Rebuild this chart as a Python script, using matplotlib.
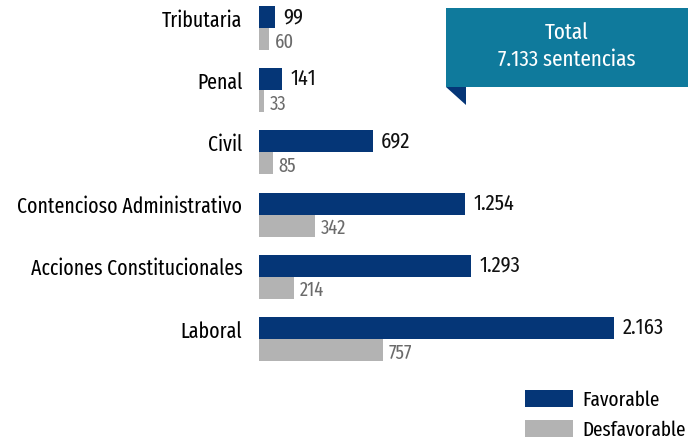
import matplotlib.pyplot as plt
import numpy as np
from matplotlib.patches import Polygon

# data
categorias = ["Tributaria", "Penal", "Civil", "Contencioso Administrativo",
              "Acciones Constitucionales", "Laboral"]
favorable = [99, 141, 692, 1254, 1293, 2163]
desfavorable = [60, 33, 85, 342, 214, 757]
etiq_fav = ["99", "141", "692", "1.254", "1.293", "2.163"]
etiq_des = ["60", "33", "85", "342", "214", "757"]
total_txt = "Total\n7.133 sentencias"

AZUL = "#053677"
GRIS = "#b3b3b3"
TEAL = "#0f7a9c"

plt.rcParams['font.family'] = ['Fira Sans Extra Condensed', 'DejaVu Sans']

W, H = 695, 444
fig = plt.figure(figsize=(W / 100, H / 100), dpi=100)
ax = fig.add_axes([259 / W, 0, 1 - 259 / W, 1])

y = np.arange(len(categorias))
h = 0.355
ax.barh(y - h / 2, favorable, height=h, color=AZUL, label="Favorable")
ax.barh(y + h / 2, desfavorable, height=h, color=GRIS, label="Desfavorable")

for yi, v, t in zip(y, favorable, etiq_fav):
    ax.annotate(t, (v, yi - h / 2), xytext=(6, 0), textcoords="offset points",
                va="center", ha="left", fontsize=16, color="#111111")
for yi, v, t in zip(y, desfavorable, etiq_des):
    ax.annotate(t, (v, yi + h / 2), xytext=(4, -2), textcoords="offset points",
                va="center", ha="left", fontsize=14.5, color="#6b6b6b")

ax.set_xlim(0, 2163 * 436 / 355)
ax.set_ylim(-0.45 + H / 62.2, -0.45)
ax.set_yticks(y - h / 2 + 0.02)
ax.set_yticklabels(categorias, fontsize=15.5)
ax.tick_params(axis="y", length=0, pad=12)
ax.set_xticks([])
for s in ax.spines.values():
    s.set_visible(False)

# caja total
box = Polygon([(446 / W, 1 - 8 / H), (688 / W, 1 - 8 / H), (688 / W, 1 - 87 / H),
               (446 / W, 1 - 87 / H)], closed=True, transform=fig.transFigure,
              facecolor=TEAL, edgecolor="none")
tri = Polygon([(446 / W, 1 - 87 / H), (466 / W, 1 - 87 / H), (466 / W, 1 - 105 / H)],
              closed=True, transform=fig.transFigure, facecolor=AZUL, edgecolor="none")
fig.patches.extend([box, tri])
fig.text(567 / W, 1 - 46 / H, total_txt, color="white", fontsize=16.5,
         ha="center", va="center", linespacing=1.3)

ax.legend(loc="lower left", bbox_to_anchor=(525 / W, 4 / H), bbox_transform=fig.transFigure,
          frameon=False, fontsize=15, handlelength=2.3, handleheight=0.87,
          labelspacing=0.5, handletextpad=0.45, borderpad=0, borderaxespad=0)

fig.savefig("out.png", dpi=100)
